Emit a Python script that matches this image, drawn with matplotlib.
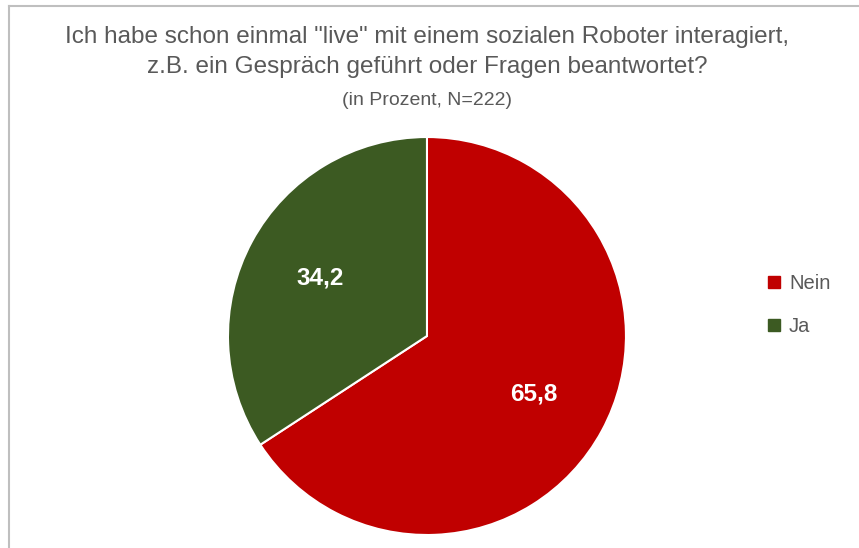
import matplotlib
matplotlib.use("Agg")
import matplotlib.pyplot as plt
from matplotlib.patches import Rectangle
from matplotlib.lines import Line2D

plt.rcParams['font.family'] = ['Liberation Sans', 'DejaVu Sans']

categories = ['Nein', 'Ja']
values = [65.8, 34.2]
colours = ['#C00000', '#3C5A22']

title_lines = ['Ich habe schon einmal "live" mit einem sozialen Roboter interagiert,',
               'z.B. ein Gespräch geführt oder Fragen beantwortet?']
subtitle = '(in Prozent, N=222)'

fig = plt.figure(figsize=(8.59, 5.48), dpi=100)

# thin grey frame (only top and left edges are visible)
fig.add_artist(Line2D([0.0105, 1.0], [0.989, 0.989], color='#BFBFBF', lw=1.5, transform=fig.transFigure))
fig.add_artist(Line2D([0.0105, 0.0105], [0.0, 0.989], color='#BFBFBF', lw=1.5, transform=fig.transFigure))

ax = fig.add_axes([0.2654, 0.0237, 0.4633, 0.7263])
wedges, texts, autotexts = ax.pie(
    values, colors=colours, startangle=90, counterclock=False, radius=1,
    autopct=lambda p: f'{p:.1f}'.replace('.', ','), pctdistance=0.61,
    wedgeprops=dict(edgecolor='white', linewidth=1.5),
    textprops=dict(color='white', fontsize=17.5, fontweight='bold'))
ax.set_xlim(-1, 1)
ax.set_ylim(-1, 1)
ax.set_aspect('equal')
ax.axis('off')

fig.text(0.497, 0.9215, title_lines[0], ha='center', va='baseline', fontsize=17.5, color='#595959')
fig.text(0.497, 0.8668, title_lines[1], ha='center', va='baseline', fontsize=17.5, color='#595959')
fig.text(0.497, 0.8084, subtitle, ha='center', va='baseline', fontsize=14, color='#595959')

# legend
leg_base = [0.4726, 0.394]
for name, col, y in zip(categories, colours, leg_base):
    fig.add_artist(Rectangle((0.894, y + 0.002), 0.0145, 0.021, color=col, transform=fig.transFigure))
    fig.text(0.9185, y, name, ha='left', va='baseline', fontsize=14.5, color='#595959')

fig.savefig('out.png', dpi=100)
